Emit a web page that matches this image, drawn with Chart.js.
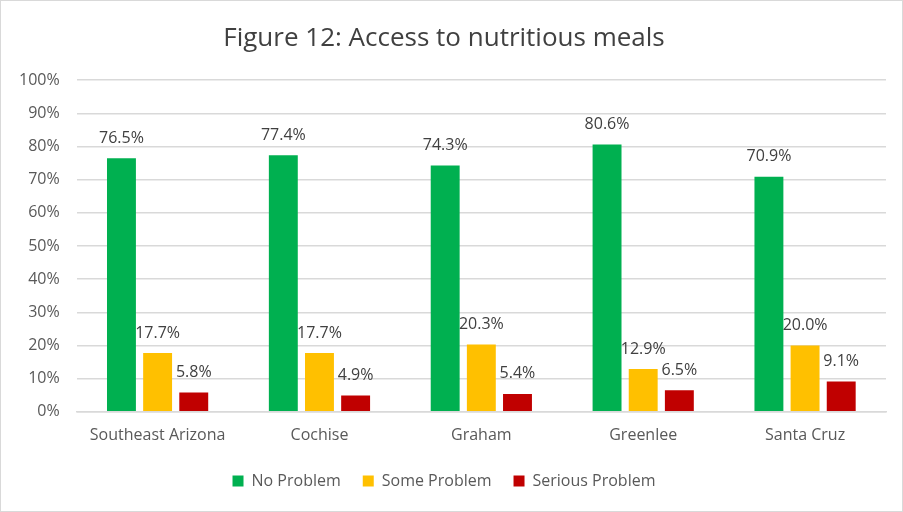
<!DOCTYPE html>
<html>
<head>
<meta charset="utf-8">
<script src="https://cdn.jsdelivr.net/npm/chart.js@4.4.1/dist/chart.umd.min.js"></script>
<style>
    html, body { margin: 0; padding: 0; background: #fff; }
    #wrap { position: absolute; left: 0; top: 0; width: 901px; height: 510px; border: 1px solid #d9d9d9; }
</style>
</head>
<body>
<div id="wrap"><canvas id="chart" width="901" height="510"></canvas></div>
<script>
// Données du graphique
const categories = ['Southeast Arizona', 'Cochise', 'Graham', 'Greenlee', 'Santa Cruz'];
const noProblem = [76.5, 77.4, 74.3, 80.6, 70.9];
const someProblem = [17.7, 17.7, 20.3, 12.9, 20.0];
const seriousProblem = [5.8, 4.9, 5.4, 6.5, 9.1];

const FONT = "'Open Sans', 'Liberation Sans', sans-serif";

/**
 * Étiquettes de valeurs au-dessus des barres
 */
const valueLabels = {
    id: 'valueLabels',
    afterDatasetsDraw(chart) {
        const ctx = chart.ctx;
        ctx.save();
        ctx.font = `16px ${FONT}`;
        ctx.fillStyle = '#404040';
        ctx.textAlign = 'center';
        ctx.textBaseline = 'middle';
        chart.data.datasets.forEach((ds, i) => {
            chart.getDatasetMeta(i).data.forEach((bar, j) => {
                ctx.fillText(ds.data[j].toFixed(1) + '%', bar.x, bar.y - 20);
            });
        });
        ctx.restore();
    }
};

new Chart(document.getElementById('chart').getContext('2d'), {
    type: 'bar',
    data: {
        labels: categories,
        datasets: [
            { label: 'No Problem', data: noProblem, backgroundColor: '#00b050' },
            { label: 'Some Problem', data: someProblem, backgroundColor: '#ffc000' },
            { label: 'Serious Problem', data: seriousProblem, backgroundColor: '#c00000' }
        ]
    },
    options: {
        responsive: false,
        animation: false,
        categoryPercentage: 0.67,
        barPercentage: 0.8,
        layout: { padding: { left: 1, right: 16, top: 8, bottom: 12 } },
        plugins: {
            title: {
                display: true,
                text: 'Figure 12: Access to nutritious meals',
                color: '#404040',
                font: { family: FONT, size: 26, weight: 'normal' },
                padding: { top: 14, bottom: 26 }
            },
            legend: {
                position: 'bottom',
                labels: {
                    color: '#595959',
                    font: { family: FONT, size: 16 },
                    boxWidth: 11,
                    boxHeight: 11,
                    padding: 22
                }
            },
            tooltip: { enabled: false }
        },
        scales: {
            x: {
                grid: { display: false },
                border: { color: '#d9d9d9', width: 1.5 },
                ticks: { color: '#595959', font: { family: FONT, size: 16 }, padding: 6 }
            },
            y: {
                min: 0,
                max: 100,
                ticks: {
                    stepSize: 10,
                    color: '#595959',
                    font: { family: FONT, size: 16 },
                    padding: 17,
                    callback: v => v + '%'
                },
                grid: { color: '#d9d9d9', lineWidth: 1.5, drawTicks: false },
                border: { display: false }
            }
        }
    },
    plugins: [valueLabels]
});
</script>
</body>
</html>
